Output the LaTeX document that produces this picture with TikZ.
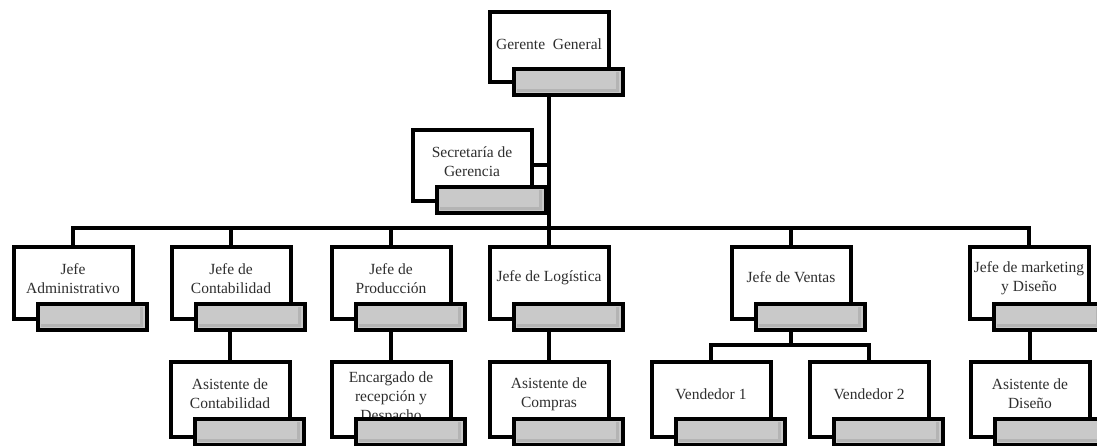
\documentclass[tikz,border=0pt]{standalone}
\usepackage{fontspec}
\setmainfont{Liberation Serif}
\usetikzlibrary{calc}
\definecolor{boxgray}{HTML}{C9C9C9}
\definecolor{shadegray}{HTML}{B4B4B4}
\definecolor{txtgray}{HTML}{2E2E2E}
\tikzset{
  whitebox/.style={draw=black, line width=4pt, fill=white, minimum width=119pt, inner sep=0pt, outer sep=0pt, anchor=north west},
  graybox/.style={draw=black, line width=4pt, fill=boxgray, minimum width=109pt, minimum height=26pt, inner sep=0pt, outer sep=0pt, anchor=north west},
  boxtext/.style={align=center, font=\fontsize{15.5}{19}\selectfont, text=txtgray, inner sep=0pt},
  shade/.style={draw=shadegray, line width=3pt},
  conn/.style={draw=black, line width=4pt}
}
% name, left x, top y, height, text offset, text
\newcommand{\orgunit}[6]{%
  \node[whitebox, minimum height=#4pt] (#1) at (#2,#3) {};
  \node[boxtext] (#1t) at ($(#1.north)+(0,#5)$) {#6};
  \node[graybox] (#1g) at ($(#1.north west)+(24,57)$) {};
  \draw[shade] ($(#1g.north east)+(-5,3.5)$) -- ($(#1g.south east)+(-5,-4.5)$) -- ($(#1g.south west)+(3.5,-4.5)$);
}
\begin{document}
\begin{tikzpicture}[x=1pt,y=-1pt]
\useasboundingbox (0,0) rectangle (1097,445);
% top
\orgunit{ger}{489.5}{11.5}{70}{33}{Gerente\ \ General}
\orgunit{sec}{412.5}{129.5}{71}{32}{Secretaría de\\Gerencia}
% row 2
\orgunit{adm}{13.5}{246.5}{72}{32}{Jefe\\Administrativo}
\orgunit{cont}{171.5}{246.5}{72}{32}{Jefe de\\Contabilidad}
\orgunit{prod}{331.5}{246.5}{72}{32}{Jefe de\\Producción}
\orgunit{log}{489.5}{246.5}{72}{31}{Jefe de Logística}
\orgunit{ven}{731.5}{246.5}{72}{31}{Jefe de Ventas}
\orgunit{mkt}{969.5}{246.5}{72}{32}{Jefe de marketing\\y Diseño}
% row 3
\orgunit{acont}{170.5}{361.5}{75}{32.5}{Asistente de\\Contabilidad}
\orgunit{enc}{331.5}{361.5}{75}{36}{Encargado de\\recepción y\\Despacho}
\orgunit{acomp}{489.5}{361.5}{75}{32.5}{Asistente de\\Compras}
\orgunit{vend1}{651.5}{361.5}{75}{33}{Vendedor 1}
\orgunit{vend2}{809.5}{361.5}{75}{33}{Vendedor 2}
\orgunit{adis}{970.5}{361.5}{75}{32.5}{Asistente de\\Diseño}
% connectors
\coordinate (bus) at (549,228);
\draw[conn] (gerg.south -| ger.north) -- (log.north);
\draw[conn] (sec.east) -- (sec.east -| ger.north);
\draw[conn] (adm.north) -- (adm.north |- bus) -- (mkt.north |- bus) -- (mkt.north);
\foreach \n in {cont,prod,ven} {
  \draw[conn] (\n.north) -- (\n.north |- bus);
}
\draw[conn] (contg.south -| acont.north) -- (acont.north);
\draw[conn] (prodg.south -| enc.north) -- (enc.north);
\draw[conn] (logg.south -| acomp.north) -- (acomp.north);
\draw[conn] (mktg.south -| adis.north) -- (adis.north);
\coordinate (vj) at ($(veng.south -| ven.north)+(0,15)$);
\draw[conn] (veng.south -| ven.north) -- (vj);
\draw[conn] (vend1.north) |- (vj) -| (vend2.north);
\end{tikzpicture}
\end{document}
